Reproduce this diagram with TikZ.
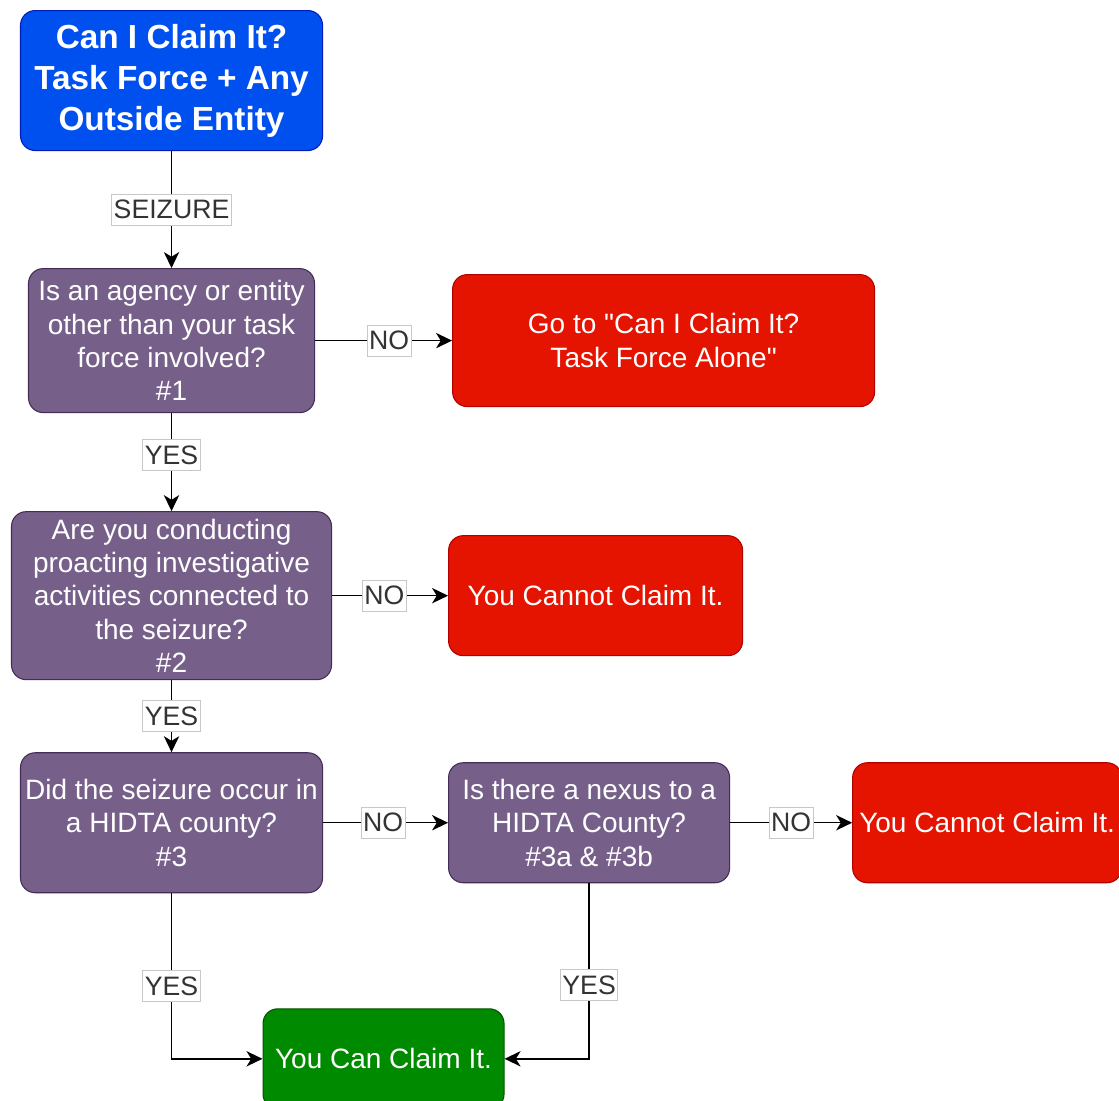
\documentclass[tikz,border=0pt]{standalone}
\usepackage{fontspec}
\setmainfont{Liberation Sans}
\usepackage{xcolor}
\usepackage{tikz}
\usetikzlibrary{arrows.meta,positioning,calc}
\definecolor{hdblue}{HTML}{0050EF}
\definecolor{hdblueline}{HTML}{001DBC}
\definecolor{askpurple}{HTML}{76608A}
\definecolor{askline}{HTML}{432D57}
\definecolor{stopred}{HTML}{E51400}
\definecolor{stopline}{HTML}{B20000}
\definecolor{gogreen}{HTML}{008A00}
\definecolor{goline}{HTML}{005700}
\definecolor{lblline}{HTML}{C8C8C8}
\definecolor{lblink}{HTML}{333333}

\begin{document}
\begin{tikzpicture}[
  box/.style={rounded corners=11pt, line width=0.8pt, text=white, align=center, inner sep=1pt,
              font=\fontsize{21}{25}\selectfont},
  titlebox/.style={box, draw=hdblueline, fill=hdblue, font=\fontsize{25}{30.75}\selectfont\bfseries},
  qbox/.style={box, draw=askline, fill=askpurple},
  stopbox/.style={box, draw=stopline, fill=stopred},
  gobox/.style={box, draw=goline, fill=gogreen},
  lbl/.style={fill=white, draw=lblline, line width=0.6pt, text=lblink, inner xsep=1.5pt, inner ysep=4.5pt,
              font=\fontsize{20}{22}\selectfont},
  arr/.style={-{Stealth[length=12pt, width=11.5pt, inset=3.5pt]}, line width=1.1pt, black}]
  \node[titlebox, minimum width=226.5pt, minimum height=105pt] (start)
    {Can I Claim It?\\Task Force + Any\\Outside Entity};
  \node[qbox, below=87.75pt of start, minimum width=214.5pt, minimum height=108pt] (q1)
    {Is an agency or entity\\other than your task\\force involved?\\\#1};
  \node[stopbox, right=102.75pt of q1, minimum width=316.5pt, minimum height=99pt] (no1)
    {Go to \textquotedbl Can I Claim It?\\Task Force Alone\textquotedbl};
  \node[qbox, below=73.5pt of q1, minimum width=240pt, minimum height=126pt] (q2)
    {Are you conducting\\proacting investigative\\activities connected to\\the seizure?\\\#2};
  \node[stopbox, right=87pt of q2, minimum width=220.5pt, minimum height=90pt] (no2)
    {You Cannot Claim It.};
  \node[qbox, below=54pt of q2, minimum width=226.5pt, minimum height=105pt] (q3)
    {Did the seizure occur in\\a HIDTA county?\\\#3};
  \node[qbox, right=93.75pt of q3, minimum width=210.75pt, minimum height=90pt] (q3a)
    {Is there a nexus to a\\HIDTA County?\\\#3a \& \#3b};
  \node[stopbox, right=91.5pt of q3a, minimum width=201.75pt, minimum height=90pt] (no3)
    {You Cannot Claim It.};
  \node[gobox, below=86.25pt of q3, xshift=159pt, minimum width=180.75pt, minimum height=75pt] (yes)
    {You Can Claim It.};
  \draw[arr] (start) -- node[lbl] {SEIZURE} (q1);
  \draw[arr] (q1) -- node[lbl, pos=0.54] {NO} (no1);
  \draw[arr] (q1) -- node[lbl, pos=0.43] {YES} (q2);
  \draw[arr] (q2) -- node[lbl, pos=0.45] {NO} (no2);
  \draw[arr] (q2) -- node[lbl] {YES} (q3);
  \draw[arr] (q3) -- node[lbl, pos=0.48] {NO} (q3a);
  \draw[arr] (q3a) -- node[lbl] {NO} (no3);
  \draw[arr] (q3) |- node[lbl, pos=0.28] {YES} (yes);
  \draw[arr] (q3a) |- node[lbl, pos=0.29] {YES} (yes);
  \pgfresetboundingbox
  \useasboundingbox ($(q2.west |- start.north)+(-8.25pt,7.5pt)$) rectangle ++(839.25pt,-825pt);
\end{tikzpicture}
\end{document}
